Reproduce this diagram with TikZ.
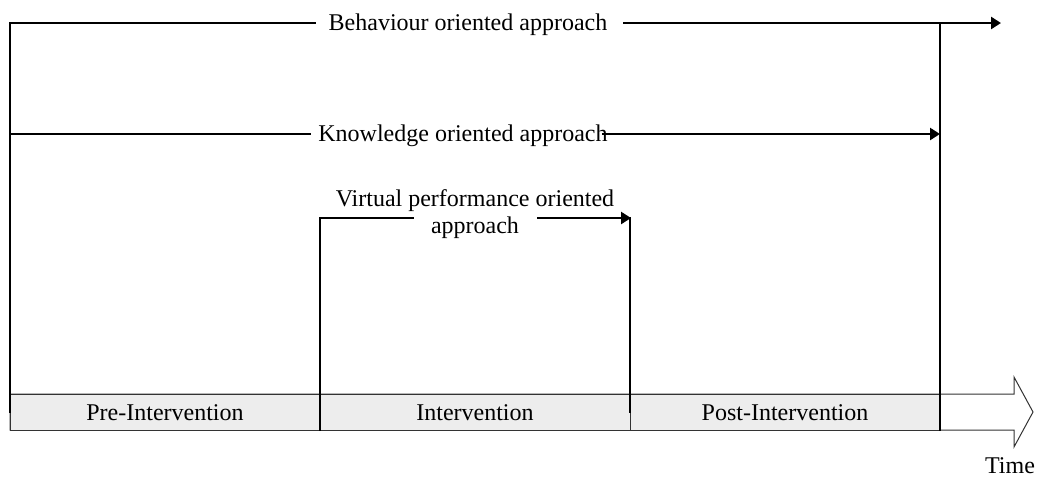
\documentclass[tikz,border=0pt]{standalone}
\usepackage{fontspec}
\setmainfont{Liberation Serif}
\usetikzlibrary{arrows.meta}
\definecolor{barfill}{HTML}{EDEDED}
\definecolor{barline}{HTML}{333333}
\tikzset{
  phase/.style={draw=barline, line width=1pt, fill=barfill},
  flow/.style={line width=2.8pt, line cap=rect},
  flowarrow/.style={line width=2.8pt, -{Triangle[length=10pt,width=12pt]}},
  label/.style={font=\fontsize{24}{27}\selectfont, inner sep=0pt, anchor=base}
}
\begin{document}
\begin{tikzpicture}[x=1pt,y=-1pt]
\useasboundingbox (0,0) rectangle (1038,477);
% time axis: block arrow with the three phases
\draw[barline, line width=1pt, fill=white]
  (10,394) -- (1014,394) -- (1014,377) -- (1033,412) -- (1014,447) -- (1014,430) -- (10,430) -- cycle;
\node[phase, minimum width=310pt, minimum height=36pt, anchor=north west, inner sep=0pt] (pre) at (10,394) {};
\node[phase, minimum width=310pt, minimum height=36pt, anchor=north west, inner sep=0pt] (int) at (320,394) {};
\node[phase, minimum width=310pt, minimum height=36pt, anchor=north west, inner sep=0pt] (post) at (630,394) {};
\node[label] (preT) at (165,420) {Pre-Intervention};
\node[label] (intT) at (475,420) {Intervention};
\node[label] (postT) at (785,420) {Post-Intervention};
\node[label] (time) at (1010,473) {Time};

% approach labels
\node[label] (beh) at (468,30) {Behaviour oriented approach};
\node[label] (know) at (463,141) {Knowledge oriented approach};
\node[label, align=center, anchor=north] (virt) at (475,189) {Virtual performance oriented\\approach};

% anchor points of the connectors
\coordinate (b0) at (10,412);
\coordinate (b1) at (10,23);
\coordinate (b2) at (315,23);
\coordinate (b3) at (623,23);
\coordinate (b4) at (1001,23);
\coordinate (k0) at (10,134);
\coordinate (k1) at (310,134);
\coordinate (k2) at (602,134);
\coordinate (k3) at (940,134);
\coordinate (e0) at (940,23);
\coordinate (e1) at (940,430);
\coordinate (v0) at (320,430);
\coordinate (v1) at (320,218);
\coordinate (v2) at (413,218);
\coordinate (v3) at (537,218);
\coordinate (v4) at (631,218);
\coordinate (w0) at (630,218);
\coordinate (w1) at (630,412);

% behaviour oriented approach
\draw[flow] (b0) -- (b1) -- (b2);
\draw[flowarrow] (b3) -- (b4);
\draw[flow] (e0) -- (e1);
% knowledge oriented approach
\draw[flow] (k0) -- (k1);
\draw[flowarrow] (k2) -- (k3);
% virtual performance oriented approach
\draw[flow] (v0) -- (v1) -- (v2);
\draw[flowarrow] (v3) -- (v4);
\draw[flow] (w0) -- (w1);
\end{tikzpicture}
\end{document}
